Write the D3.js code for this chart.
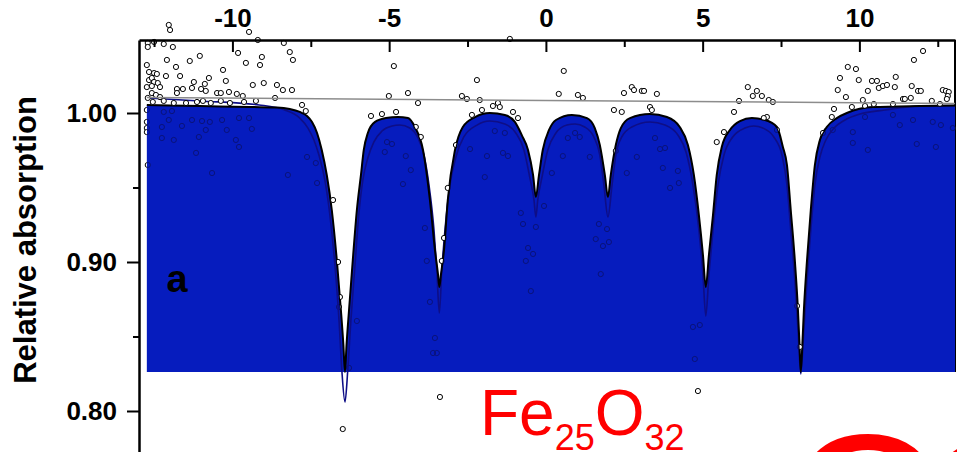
<!DOCTYPE html>
<html>
<head>
<meta charset="utf-8">
<script src="https://cdn.jsdelivr.net/npm/d3@7"></script>
<style>
  html, body { margin: 0; padding: 0; background: #ffffff; }
  svg { display: block; font-family: "Liberation Sans", Arial, sans-serif; }
</style>
</head>
<body>
<svg id="chart" width="957" height="452"></svg>
<script>
// Velocity ticks (mm/s) on the top axis, absorption ticks on the left axis
const tickVelocities = [-10, -5, 0, 5, 10];
const minorVelocities = [-12.5, -7.5, -2.5, 2.5, 7.5, 12.5];
const tickAbsorption = [0.80, 0.90, 1.00];
const minorAbsorption = [0.85, 0.95];

// Measured counts (velocity, relative absorption)
const pointVelocity = [
  -12.03, -11.99, -9.47, -9.19, -1.15, -12.70, -12.19, -11.90, -12.70, -12.50,
  -9.82, -8.36, -8.17, -11.04, -9.06, -12.09, -11.36, -9.57, -8.07, -9.12,
  -12.73, -11.80, -10.30, -12.66, -12.50, -12.41, -12.12, -11.67, -10.75, -10.21,
  -12.66, -12.57, -12.50, -12.38, -11.23, -12.73, -12.57, -12.31, -10.88, -9.35,
  -9.00, -8.58, -8.39, -8.10, -11.77, -11.58, -11.29, -11.00, -10.85, -11.77,
  -10.49, -10.37, -10.11, -9.86, -9.67, -12.57, -12.44, -12.70, -12.31, -12.54,
  -12.19, -11.87, -11.48, -11.13, -10.94, -10.69, -10.37, -10.08, -9.63, -9.25,
  -8.64, -7.78, -7.66, -4.85, -2.20, 0.57, -5.01, -4.40, -4.08, -2.68,
  -2.52, -2.11, -1.69, -1.53, -1.47, -2.04, -2.36, -1.05, -0.89, 0.41,
  1.02, 1.18, 2.49, 2.17, 2.42, -5.58, -5.23, -4.78, -4.15, -3.99,
  2.23, 2.74, 2.81, 3.06, 3.13, 3.54, 3.32, 3.38, 6.44, 6.73,
  6.60, 6.89, 7.11, 7.24, 6.16, 6.00, 7.05, 6.95, 7.37, 5.68,
  5.45, 8.84, 9.12, 9.19, 9.31, 9.38, 9.63, 9.89, 9.98, 9.57,
  9.76, 10.11, 10.18, 10.40, 10.56, 10.27, 10.62, 10.75, 10.88, 11.16,
  11.13, 11.39, 11.45, 11.64, 11.67, 11.74, 12.03, 11.87, 11.96, 12.31,
  12.57, 12.66, 12.76, 12.85, 12.82, 12.79, 10.46, 11.07, -2.87, -3.13,
  -3.25, -3.32, -6.79, -6.63, -6.57, -6.60, 8.01, 8.10, -6.48, -3.38,
  4.85,
  -12.73, -12.73, -12.73, -12.73, -12.70, -12.19, -11.93, -11.29, -10.97, -10.72,
  -12.03, -11.61, -12.25, -10.33, -9.79, -9.47, -10.85, -10.18, -11.87, -12.25,
  -9.89, -11.07, -9.38, -9.79, -11.16, -10.65, -8.23, -7.30, -7.62, -7.34,
  -5.07, -4.91, -5.14, -4.47, -4.31, -4.56, -3.86, -3.80, -3.70, -2.42,
  -1.88, -1.63, -1.31, -1.37, -1.21, -1.95, -0.80, -0.73, -0.06, -0.32,
  0.19, 0.54, 0.70, 1.08, 0.93, 1.40, 1.69, 1.95, 1.59, 1.82,
  2.01, 2.58, 2.90, -0.41, -0.57, -0.64, 1.75, -0.48, 3.73, 3.64,
  3.80, 3.48, 3.96, 4.21, 4.24, -3.54, -6.03, -6.28, -3.60, -3.48,
  4.91, 4.69, 4.75, 9.15, 9.79, 10.18, 11.07, 11.29, 11.71, 12.34,
  12.60, 9.79, 10.27, 11.83, 12.44, 12.98
];
const pointAbsorption = [
  1.0591, 1.0557, 1.0544, 1.0490, 1.0497, 1.0470, 1.0463, 1.0443, 1.0443, 1.0477,
  1.0403, 1.0470, 1.0409, 1.0383, 1.0376, 1.0356, 1.0349, 1.0336, 1.0356, 1.0322,
  1.0322, 1.0309, 1.0289, 1.0275, 1.0268, 1.0262, 1.0248, 1.0248, 1.0235, 1.0215,
  1.0221, 1.0235, 1.0208, 1.0201, 1.0208, 1.0174, 1.0181, 1.0174, 1.0195, 1.0188,
  1.0201, 1.0188, 1.0154, 1.0154, 1.0161, 1.0161, 1.0168, 1.0161, 1.0148, 1.0134,
  1.0134, 1.0134, 1.0141, 1.0128, 1.0114, 1.0134, 1.0121, 1.0101, 1.0107, 1.0074,
  1.0081, 1.0067, 1.0067, 1.0074, 1.0081, 1.0067, 1.0081, 1.0067, 1.0074, 1.0081,
  1.0101, 1.0054, 1.0013, 1.0315, 1.0221, 1.0282, 1.0114, 1.0134, 1.0067, 1.0114,
  1.0094, 1.0087, 1.0047, 1.0067, 1.0040, 1.0020, 0.9987, 1.0007, 0.9966, 1.0128,
  1.0121, 1.0101, 1.0134, 1.0020, 1.0007, 0.9980, 0.9993, 1.0007, 0.9906, 0.9839,
  0.9745, 1.0174, 1.0154, 1.0148, 1.0148, 1.0128, 1.0040, 1.0020, 1.0174, 1.0148,
  1.0114, 1.0114, 1.0087, 1.0074, 1.0081, 1.0007, 0.9973, 0.9966, 0.9886, 0.9872,
  0.9805, 0.9866, 0.9973, 1.0027, 1.0154, 1.0235, 1.0309, 1.0295, 1.0221, 1.0107,
  1.0040, 1.0087, 1.0047, 1.0215, 1.0215, 1.0148, 1.0168, 1.0181, 1.0188, 1.0242,
  1.0174, 1.0094, 1.0094, 1.0101, 1.0181, 1.0356, 1.0416, 1.0148, 1.0148, 1.0081,
  1.0060, 1.0154, 1.0148, 1.0141, 1.0114, 1.0094, 1.0060, 1.0060, 0.9785, 0.9497,
  0.9161, 0.9007, 0.9416, 0.9000, 0.8765, 0.8698, 0.8705, 0.8430, 0.7879, 0.8094,
  0.8134,
  1.0020, 0.9940, 0.9899, 0.9872, 0.9651, 1.0007, 1.0013, 0.9953, 0.9946, 0.9940,
  0.9953, 0.9913, 0.9906, 0.9953, 0.9966, 0.9966, 0.9886, 0.9886, 0.9819, 0.9832,
  0.9819, 0.9839, 0.9893, 0.9772, 0.9732, 0.9597, 0.9584, 0.9530, 0.9705, 0.9664,
  0.9805, 0.9792, 0.9738, 0.9711, 0.9617, 0.9523, 0.9228, 0.9007, 0.8732, 0.9758,
  0.9711, 0.9879, 0.9866, 0.9732, 0.9711, 0.9570, 0.9329, 0.9255, 0.9376, 0.9235,
  0.9597, 0.9711, 0.9832, 0.9839, 0.9866, 0.9705, 0.9255, 0.9221, 0.9154, 0.9107,
  0.9134, 0.9597, 0.9705, 0.9054, 0.9094, 0.9007, 0.8919, 0.8805, 0.9631, 0.9758,
  0.9765, 0.9832, 0.9497, 0.9611, 0.9530, 0.8490, 0.8604, 0.8289, 0.8389, 0.8389,
  0.8577, 0.8564, 0.8349, 0.9886, 0.9872, 0.9973, 0.9987, 0.9919, 0.9953, 0.9940,
  0.9919, 0.9799, 0.9752, 0.9792, 0.9772, 0.9899
];

// Total fitted spectrum (sextet envelope)
const fitVelocity = [
  -12.73, -11.04, -9.44, -8.58, -8.17, -7.85, -7.62, -7.46, -7.30, -7.15,
  -6.99, -6.83, -6.67, -6.54, -6.46, -6.41, -6.36, -6.28, -6.16, -6.03,
  -5.90, -5.81, -5.68, -5.45, -5.10, -4.72, -4.40, -4.18, -3.92, -3.70,
  -3.54, -3.44, -3.40, -3.35, -3.25, -3.13, -2.90, -2.65, -2.26, -1.79,
  -1.31, -0.99, -0.77, -0.57, -0.41, -0.32, -0.22, -0.10, 0.10, 0.32,
  0.83, 1.31, 1.56, 1.72, 1.88, 1.98, 2.07, 2.23, 2.39, 2.68,
  3.32, 3.86, 4.27, 4.53, 4.72, 4.88, 5.01, 5.10, 5.20, 5.33,
  5.45, 5.61, 5.87, 6.19, 6.57, 6.99, 7.37, 7.56, 7.69, 7.81,
  7.94, 8.04, 8.09, 8.13, 8.18, 8.23, 8.33, 8.45, 8.58, 8.74,
  8.96, 9.28, 9.60, 10.43, 11.93, 13.05
];
const fitAbsorption = [
  1.0054, 1.0047, 1.0040, 1.0037, 1.0027, 1.0007, 0.9980, 0.9940, 0.9866, 0.9752,
  0.9584, 0.9349, 0.9013, 0.8678, 0.8443, 0.8262, 0.8443, 0.8678, 0.9013, 0.9349,
  0.9584, 0.9752, 0.9866, 0.9940, 0.9966, 0.9973, 0.9966, 0.9906, 0.9752, 0.9416,
  0.9081, 0.8913, 0.8832, 0.8913, 0.9081, 0.9416, 0.9752, 0.9906, 0.9973, 1.0000,
  0.9987, 0.9940, 0.9852, 0.9752, 0.9584, 0.9436, 0.9584, 0.9752, 0.9886, 0.9953,
  0.9987, 0.9966, 0.9899, 0.9785, 0.9584, 0.9436, 0.9584, 0.9785, 0.9899, 0.9966,
  0.9993, 0.9973, 0.9906, 0.9785, 0.9584, 0.9315, 0.9047, 0.8832, 0.9047, 0.9315,
  0.9584, 0.9772, 0.9886, 0.9946, 0.9966, 0.9953, 0.9906, 0.9772, 0.9651, 0.9349,
  0.9013, 0.8678, 0.8443, 0.8262, 0.8443, 0.8678, 0.9013, 0.9349, 0.9651, 0.9819,
  0.9906, 0.9966, 1.0000, 1.0040, 1.0047, 1.0050
];

// Sub-spectrum component
const subVelocity = [
  -12.73, -11.04, -9.15, -8.33, -7.85, -7.59, -7.40, -7.24, -7.05, -6.89,
  -6.73, -6.60, -6.51, -6.41, -6.32, -6.22, -6.09, -5.97, -5.84, -5.68,
  -5.49, -5.23, -4.91, -4.66, -4.34, -4.08, -3.89, -3.73, -3.57, -3.48,
  -3.40, -3.32, -3.22, -3.06, -2.87, -2.62, -2.20, -1.79, -1.31, -0.96,
  -0.70, -0.51, -0.38, -0.32, -0.26, -0.13, 0.06, 0.32, 0.67, 0.93,
  1.24, 1.53, 1.72, 1.85, 1.98, 2.11, 2.23, 2.42, 2.74, 3.32,
  3.80, 4.21, 4.47, 4.69, 4.88, 5.01, 5.10, 5.20, 5.33, 5.49,
  5.68, 5.96, 6.35, 6.63, 6.92, 7.27, 7.53, 7.69, 7.81, 7.94,
  8.04, 8.13, 8.23, 8.33, 8.45, 8.58, 8.74, 8.93, 9.19, 9.54,
  10.02, 10.81, 11.93, 13.05
];
const subAbsorption = [
  1.0101, 1.0081, 1.0054, 1.0020, 0.9966, 0.9899, 0.9819, 0.9718, 0.9550, 0.9315,
  0.8980, 0.8611, 0.8275, 0.8060, 0.8275, 0.8611, 0.8980, 0.9315, 0.9550, 0.9698,
  0.9805, 0.9879, 0.9913, 0.9919, 0.9899, 0.9832, 0.9718, 0.9517, 0.9215, 0.8946,
  0.8658, 0.8946, 0.9215, 0.9517, 0.9705, 0.9839, 0.9919, 0.9946, 0.9926, 0.9866,
  0.9752, 0.9564, 0.9416, 0.9302, 0.9416, 0.9564, 0.9752, 0.9866, 0.9919, 0.9926,
  0.9906, 0.9839, 0.9718, 0.9517, 0.9302, 0.9517, 0.9718, 0.9839, 0.9906, 0.9940,
  0.9919, 0.9852, 0.9738, 0.9517, 0.9215, 0.8913, 0.8638, 0.8913, 0.9215, 0.9517,
  0.9718, 0.9839, 0.9899, 0.9913, 0.9899, 0.9839, 0.9718, 0.9517, 0.9215, 0.8879,
  0.8544, 0.8248, 0.8544, 0.8879, 0.9215, 0.9517, 0.9705, 0.9819, 0.9899, 0.9953,
  0.9993, 1.0020, 1.0047, 1.0050
];

// Straight background line
const baselineVelocity = [-12.73, 13.05];
const baselineAbsorption = [1.0104, 1.0064];

const W = 957, H = 452;
const svg = d3.select("#chart");

const x = d3.scaleLinear().domain([-12.98, 13.05]).range([139, 955]);
const y = d3.scaleLinear().domain([0.77248, 1.04899]).range([452, 40]);

const zip = (vs, as) => vs.map((v, i) => ({ v, a: as[i] }));
const points = zip(pointVelocity, pointAbsorption);
const fit = zip(fitVelocity, fitAbsorption);
const sub = zip(subVelocity, subAbsorption);
const base = zip(baselineVelocity, baselineAbsorption);

const floorValue = d3.min(fitAbsorption);

const areaGen = d3.area()
  .x(d => x(d.v))
  .y0(y(floorValue))
  .y1(d => y(d.a))
  .curve(d3.curveMonotoneX);
const lineGen = d3.line()
  .x(d => x(d.v))
  .y(d => y(d.a))
  .curve(d3.curveMonotoneX);

const areaPath = areaGen(fit);

// Masks separating counts above the envelope from those under the shaded area
const defs = svg.append("defs");
const outside = defs.append("mask").attr("id", "outsideFill")
  .attr("maskUnits", "userSpaceOnUse")
  .attr("x", 0).attr("y", 0).attr("width", W).attr("height", H);
outside.append("rect").attr("width", W).attr("height", H).attr("fill", "#fff");
outside.append("path").attr("d", areaPath).attr("fill", "#000");
const inside = defs.append("mask").attr("id", "insideFill")
  .attr("maskUnits", "userSpaceOnUse")
  .attr("x", 0).attr("y", 0).attr("width", W).attr("height", H);
inside.append("path").attr("d", areaPath).attr("fill", "#fff");

// Right frame edge
svg.append("line")
  .attr("x1", 955).attr("x2", 955)
  .attr("y1", 40).attr("y2", y(floorValue))
  .attr("stroke", "#000").attr("stroke-width", 2);

// Shaded absorption envelope
svg.append("path")
  .attr("d", areaPath)
  .attr("fill", "#061cbe");

// Counts seen through the shading
svg.append("g").attr("mask", "url(#insideFill)")
  .selectAll("circle").data(points).join("circle")
  .attr("cx", d => x(d.v)).attr("cy", d => y(d.a)).attr("r", 2.6)
  .attr("fill", "none").attr("stroke", "#0a137a").attr("stroke-width", 1);

// Sub-spectrum line
svg.append("path")
  .attr("d", lineGen(sub))
  .attr("fill", "none").attr("stroke", "#0e0e86").attr("stroke-width", 1.6);

// Total fit line
svg.append("path")
  .attr("d", lineGen(fit))
  .attr("fill", "none").attr("stroke", "#000").attr("stroke-width", 2);

// Counts outside the shading
svg.append("g").attr("mask", "url(#outsideFill)")
  .selectAll("circle").data(points).join("circle")
  .attr("cx", d => x(d.v)).attr("cy", d => y(d.a)).attr("r", 2.6)
  .attr("fill", "#fff").attr("stroke", "#000").attr("stroke-width", 1);

// Background line
svg.append("path")
  .attr("d", d3.line().x(d => x(d.v)).y(d => y(d.a))(base))
  .attr("fill", "none").attr("stroke", "#8c8c8c").attr("stroke-width", 1.5);

// Top velocity axis
const styleAxis = g => {
  g.select(".domain").attr("stroke", "#000").attr("stroke-width", 2.5);
  g.selectAll(".tick line").attr("stroke", "#000").attr("stroke-width", 2);
  g.selectAll(".tick text")
    .attr("fill", "#000")
    .style("font-family", '"Liberation Sans", Arial, sans-serif')
    .style("font-size", "26px").style("font-weight", "bold");
};

svg.append("g").attr("transform", "translate(0,40)")
  .call(d3.axisTop(x).tickValues(tickVelocities).tickFormat(d => String(d))
    .tickSizeInner(-12).tickSizeOuter(0).tickPadding(13))
  .call(styleAxis);
svg.append("g").attr("transform", "translate(0,40)")
  .call(d3.axisTop(x).tickValues(minorVelocities).tickFormat("")
    .tickSizeInner(-7).tickSizeOuter(0))
  .call(g => g.select(".domain").remove())
  .call(g => g.selectAll(".tick line").attr("stroke", "#000").attr("stroke-width", 2));

// Left absorption axis
svg.append("g").attr("transform", "translate(139,0)")
  .call(d3.axisLeft(y).tickValues(tickAbsorption).tickFormat(d3.format(".2f"))
    .tickSize(12).tickSizeOuter(0).tickPadding(10))
  .call(styleAxis);
svg.append("g").attr("transform", "translate(139,0)")
  .call(d3.axisLeft(y).tickValues(minorAbsorption).tickFormat("")
    .tickSize(6).tickSizeOuter(0))
  .call(g => g.select(".domain").remove())
  .call(g => g.selectAll(".tick line").attr("stroke", "#000").attr("stroke-width", 2));

// Axis title
svg.append("text")
  .attr("transform", "translate(35.5,240) rotate(-90)")
  .attr("text-anchor", "middle")
  .style("font-size", "31px").style("font-weight", "bold")
  .attr("fill", "#000")
  .text("Relative absorption");

// Panel letter
svg.append("text")
  .attr("x", 166.5).attr("y", 292)
  .style("font-size", "38px").style("font-weight", "bold")
  .attr("fill", "#000")
  .text("a");

// Sample formula
const formula = svg.append("text")
  .attr("x", 480).attr("y", 435)
  .attr("fill", "#ff0000")
  .style("font-size", "64px");
formula.append("tspan").text("Fe");
formula.append("tspan").attr("dy", 15).style("font-size", "36px").text("25");
formula.append("tspan").attr("dy", -15).text("O");
formula.append("tspan").attr("dy", 15).style("font-size", "36px").text("32");

// Large heading running off the bottom edge
svg.append("text")
  .attr("x", 868).attr("y", 581)
  .attr("text-anchor", "middle")
  .attr("fill", "#ff0000")
  .style("font-size", "210px")
  .text("O");
svg.append("text")
  .attr("x", 918).attr("y", 583)
  .attr("fill", "#ff0000")
  .style("font-size", "210px")
  .text("1");
</script>
</body>
</html>
